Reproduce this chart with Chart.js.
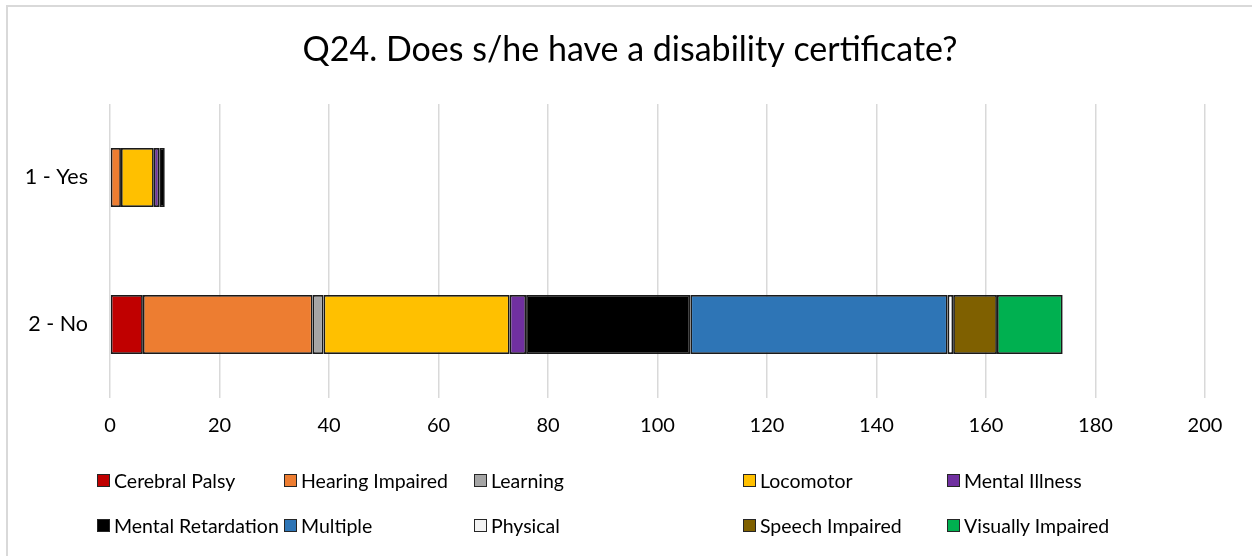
<!DOCTYPE html>
<html>
<head>
<meta charset="utf-8">
<script src="https://cdn.jsdelivr.net/npm/chart.js@4/dist/chart.umd.min.js"></script>
<style>
  html, body { margin: 0; padding: 0; background: #fff; }
  #wrap { position: relative; width: 1252px; height: 556px; overflow: hidden; background: #fff; }
  #frame { position: absolute; left: 6px; top: 5px; width: 1260px; height: 570px; border: 2px solid #d9d9d9; box-sizing: border-box; }
  canvas { position: absolute; left: 0; top: 0; }
  .lg { position: absolute; font-family: Lato, sans-serif; font-size: 19.5px; color: #000; white-space: nowrap; line-height: 24px; }
  .lg i { position: absolute; left: 0; top: 5px; width: 11px; height: 11px; border: 1.5px solid #262626; }
  .lg span { position: absolute; left: 17px; top: 0; }
</style>
</head>
<body>
<div id="wrap">
  <div id="frame"></div>
  <canvas id="c" width="1252" height="556"></canvas>
  <div id="legend"></div>
</div>
<script>
const titleText = 'Q24. Does s/he have a disability certificate?';
const categories = ['1 - Yes', '2 - No'];
const seriesNames = ['Cerebral Palsy', 'Hearing Impaired', 'Learning', 'Locomotor', 'Mental Illness',
  'Mental Retardation', 'Multiple', 'Physical', 'Speech Impaired', 'Visually Impaired'];
const cerebralPalsy     = [0, 6];
const hearingImpaired   = [2, 31];
const learning          = [0, 2];
const locomotor         = [6, 34];
const mentalIllness     = [1, 3];
const mentalRetardation = [1, 30];
const multiple          = [0, 47];
const physical          = [0, 1];
const speechImpaired    = [0, 8];
const visuallyImpaired  = [0, 12];
const xTicks = [0, 20, 40, 60, 80, 100, 120, 140, 160, 180, 200];

const seriesValues = [cerebralPalsy, hearingImpaired, learning, locomotor, mentalIllness,
  mentalRetardation, multiple, physical, speechImpaired, visuallyImpaired];
const colors = ['#C00000', '#ED7D31', '#A5A5A5', '#FFC000', '#7030A0',
  '#000000', '#2E75B6', '#FFFFFF', '#7F6000', '#00B050'];
const legendFill = ['#C00000', '#ED7D31', '#A5A5A5', '#FFC000', '#7030A0',
  '#000000', '#2E75B6', '#F2F2F2', '#7F6000', '#00B050'];

const datasets = seriesNames.map((n, i) => ({
  label: n,
  data: seriesValues[i],
  backgroundColor: colors[i],
  borderColor: '#1a1a1a',
  borderWidth: 1.75,
  borderSkipped: false,
  barPercentage: 1,
  categoryPercentage: 0.4
}));

const titlePlugin = {
  id: 'centeredTitle',
  afterDraw(chart) {
    const ctx = chart.ctx;
    ctx.save();
    ctx.font = '34px Lato';
    ctx.fillStyle = '#000';
    ctx.textAlign = 'center';
    ctx.textBaseline = 'middle';
    ctx.fillText(titleText, 630, 50);
    ctx.restore();
  }
};

new Chart(document.getElementById('c'), {
  type: 'bar',
  data: { labels: categories, datasets },
  plugins: [titlePlugin],
  options: {
    responsive: false,
    animation: false,
    indexAxis: 'y',
    layout: { padding: { left: 0, right: 47, top: 104, bottom: 110 } },
    plugins: {
      legend: { display: false },
      tooltip: { enabled: false },
      title: { display: false }
    },
    scales: {
      x: {
        stacked: true,
        min: 0, max: 200,
        afterBuildTicks: (s) => { s.ticks = xTicks.map(v => ({ value: v })); },
        afterFit: (s) => { s.height = 48; },
        grid: { color: '#d9d9d9', lineWidth: 1.5, drawTicks: false },
        border: { display: false },
        ticks: { color: '#000', font: { family: 'Lato', size: 20 }, padding: 16 }
      },
      y: {
        stacked: true,
        afterFit: (s) => { s.width = 110; },
        grid: { display: false, drawTicks: false },
        border: { display: false },
        ticks: { color: '#000', font: { family: 'Lato', size: 21.5 }, padding: 22 }
      }
    }
  }
});

const legendPos = [
  [97, 469], [284, 469], [474, 469], [743, 469], [947, 469],
  [97, 514], [284, 514], [474, 514], [743, 514], [947, 514]
];
const lg = document.getElementById('legend');
seriesNames.forEach((n, i) => {
  const d = document.createElement('div');
  d.className = 'lg';
  d.style.left = legendPos[i][0] + 'px';
  d.style.top = legendPos[i][1] + 'px';
  const box = document.createElement('i');
  box.style.background = legendFill[i];
  const t = document.createElement('span');
  t.textContent = n;
  d.appendChild(box); d.appendChild(t);
  lg.appendChild(d);
});
</script>
</body>
</html>
